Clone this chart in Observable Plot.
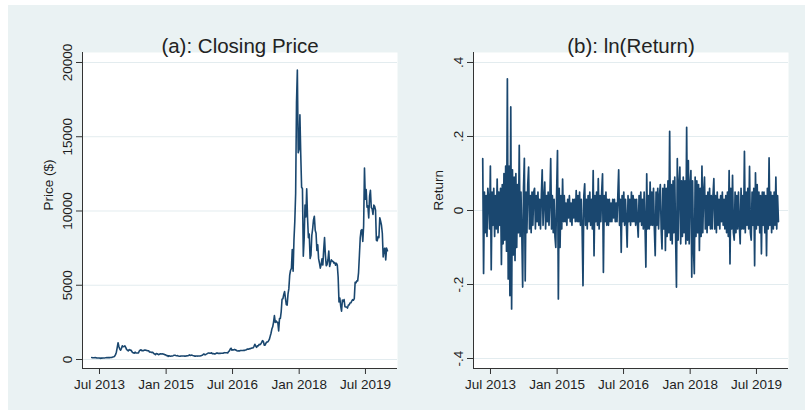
<!DOCTYPE html>
<html>
<head>
<meta charset="utf-8">
<script src="https://cdn.jsdelivr.net/npm/d3@7"></script>
<script src="https://cdn.jsdelivr.net/npm/@observablehq/plot@0.6"></script>
<style>
  html, body { margin: 0; padding: 0; background: #ffffff; }
  #graph { position: absolute; left: 8px; top: 5px; width: 797px; height: 405px; background: #eaf2f3; }
  #graph svg { position: absolute; top: 0; overflow: visible; }
</style>
</head>
<body>
<div id="graph"></div>
<script>
// Weekly closing prices (USD), one value per Sunday starting 2013-04-28
const weekStart = "2013-04-28";
const closingPrice = [
  // 2013
  134, 115, 115, 122, 133, 122, 100, 100, 103, 97, 76, 95, 90, 97, 105, 106, 113, 123,
  138, 124, 125, 124, 135, 136, 142, 174, 183, 225, 328, 492, 805, 1130, 860, 700, 625, 750,
  // 2014
  925, 860, 870, 920, 820, 680, 625, 575, 670, 630, 630, 565, 475, 460, 420, 495, 435,
  440, 440, 445, 570, 630, 655, 590, 600, 600, 635, 630, 625, 595, 590, 590, 500, 505, 480,
  480, 477, 400, 377, 320, 400, 390, 355, 325, 365, 390, 370, 380, 375, 350, 320, 317,
  // 2015
  264, 274, 210, 253, 226, 222, 234, 235, 260, 290, 285, 267, 252, 260, 236, 223, 219,
  240, 240, 237, 240, 230, 226, 234, 245, 250, 271, 310, 275, 293, 281, 265, 257, 228, 229,
  240, 230, 231, 232, 239, 247, 262, 285, 325, 373, 320, 323, 370, 395, 435, 441, 422,
  // 2016
  430, 447, 388, 403, 378, 376, 406, 438, 432, 403, 414, 411, 425, 420, 421, 430, 460,
  451, 459, 457, 440, 527, 574, 703, 760, 630, 660, 650, 680, 660, 625, 590, 570, 580, 575,
  610, 607, 610, 605, 612, 617, 640, 657, 700, 704, 702, 730, 730, 765, 770, 790, 890,
  // 2017
  1021, 911, 820, 925, 915, 1015, 1000, 1050, 1150, 1270, 1225, 970, 965,
  1100, 1180, 1180, 1250, 1350, 1555, 1770, 2050, 2200, 2520, 2960, 2500, 2590,
  2500, 2510, 1930, 2750, 2760, 3230, 4065, 4090, 4380, 4580, 4120, 3700, 3660,
  4400, 4770, 5680, 6010, 6130, 7400, 5950, 8040, 9300, 11200, 17300, 19497, 13925, 14156,
  // 2018
  16477, 13800, 11600, 11500, 6960, 8100, 10400, 9600, 11500, 9530, 8200, 8450,
  6800, 7020, 8350, 8800, 9400, 9650, 8700, 8500, 7350, 7720, 6790, 6500, 6150,
  6380, 6780, 6360, 7400, 8220, 7030, 6310, 6400, 6720, 7300, 6260, 6500, 6710, 6630,
  6600, 6490, 6530, 6350, 6480, 6360, 5560, 3880, 4140, 3600, 3250, 4000, 3920,
  // 2019
  4040, 3550, 3540, 3540, 3460, 3660, 3670, 3810, 3820, 3930, 4030, 3990, 4100,
  5200, 5160, 5300, 5290, 5830, 6990, 8200, 8700, 8740, 7950, 8990, 12900, 10800,
  11450, 10250, 10340, 9530, 11000, 11390, 10230, 10140, 9770, 10400, 10310, 10050, 8040,
  7990, 8280, 8210, 9550, 9310, 9040, 8500, 6900, 7420, 7500, 6700, 7500, 7320
];

// ln(Return), same weekly calendar as the prices
const lnReturn = [
  0.14, -0.17, 0.05, -0.06, 0.04, -0.07, 0.06, 0.03, -0.05, 0.12,
  -0.16, 0.05, -0.04, 0.06, -0.07, 0.04, -0.05, 0.085, -0.06, 0.05,
  -0.04, 0.06, -0.146, 0.07, -0.09, 0.1, -0.08, 0.12, -0.11, 0.356,
  -0.185, 0.12, -0.23, 0.28, -0.266, 0.11, -0.12, 0.09, -0.135, 0.1,
  -0.1, 0.07, -0.06, 0.176, -0.07, 0.05, -0.06, -0.207, 0.06, 0.141,
  -0.19, 0.05, -0.06, 0.07, 0.117, -0.05, 0.04, -0.06, 0.05, -0.04,
  0.05, 0.06, -0.05, 0.04, -0.03, 0.05, -0.04, 0.03, -0.05, 0.04,
  0.11, -0.04, 0.03, 0.077, -0.05, 0.04, -0.03, 0.05, -0.04, 0.03,
  0.14, -0.05, 0.04, -0.06, 0.03, -0.07, -0.1, 0.05, 0.162, -0.239,
  0.06, -0.1, 0.04, -0.05, 0.085, -0.03, 0.04, -0.03, 0.02, -0.04,
  0.03, -0.02, 0.04, -0.03, 0.02, -0.04, 0.03, -0.02, 0.03, -0.03,
  0.054, -0.03, 0.04, -0.03, 0.05, -0.04, 0.03, -0.05, -0.203, 0.04,
  0.072, -0.04, 0.03, -0.05, 0.04, -0.03, 0.05, -0.04, 0.03, -0.05,
  0.108, -0.122, 0.04, -0.03, 0.05, -0.04, 0.086, -0.05, 0.04, -0.03,
  0.05, 0.099, -0.167, 0.04, -0.03, 0.05, -0.04, 0.03, -0.04, 0.03,
  -0.03, 0.02, -0.03, 0.03, -0.02, 0.03, -0.03, 0.02, -0.03, 0.04,
  0.11, -0.04, 0.03, -0.113, 0.04, -0.03, 0.05, -0.04, 0.03, -0.03,
  -0.099, 0.04, -0.03, 0.03, -0.04, 0.05, -0.03, 0.04, -0.03, 0.03,
  -0.04, 0.03, -0.03, -0.072, 0.04, -0.03, 0.05, -0.04, 0.03, -0.05,
  0.05, -0.04, -0.153, 0.099, -0.05, 0.04, -0.05, 0.077, -0.04, 0.05,
  -0.04, 0.06, -0.05, -0.122, 0.05, -0.04, 0.06, -0.05, 0.04, 0.07,
  -0.05, -0.104, 0.06, -0.05, 0.07, -0.108, 0.06, -0.07, 0.08, -0.06,
  0.214, -0.08, 0.07, -0.09, 0.08, -0.06, 0.09, -0.07, -0.207, 0.14,
  -0.08, 0.07, 0.117, -0.09, 0.08, -0.07, 0.09, -0.06, 0.08, -0.09,
  0.225, -0.08, 0.135, -0.09, 0.07, 0.108, -0.18, 0.08, -0.1, -0.171,
  0.09, -0.07, 0.08, -0.06, 0.07, -0.108, 0.06, -0.07, 0.12, -0.06,
  0.05, 0.09, -0.05, 0.04, -0.06, 0.05, -0.04, 0.06, -0.05, 0.04,
  -0.05, 0.04, 0.086, -0.05, 0.04, -0.06, 0.05, -0.04, 0.03, -0.05,
  0.04, -0.03, 0.05, -0.04, 0.03, -0.05, 0.04, -0.06, 0.05, -0.07,
  0.108, -0.144, 0.06, -0.05, 0.095, -0.06, -0.08, 0.05, -0.06, 0.04,
  -0.05, 0.05, -0.04, -0.09, 0.06, -0.05, 0.04, -0.05, 0.16, -0.06,
  0.05, -0.04, 0.06, -0.05, 0.119, -0.06, -0.08, 0.05, -0.04, 0.06,
  -0.149, 0.102, -0.05, 0.07, -0.04, 0.05, -0.06, 0.04, -0.117, 0.05,
  -0.04, 0.05, -0.06, 0.04, -0.122, 0.06, -0.05, 0.142, -0.04, 0.05,
  -0.06, 0.04, -0.05, 0.05, -0.04, 0.09, -0.05, 0.04, -0.03
];

const timeTicks = ["2013-07-01", "2015-01-01", "2016-07-01", "2018-01-01", "2019-07-01"];
const timeDomain = ["2013-02-11", "2020-03-21"];
const priceTicks = [0, 5000, 10000, 15000, 20000];
const priceDomain = [-606, 20673];
const returnTicks = [-0.4, -0.2, 0, 0.2, 0.4];
const returnTickLabels = ["-.4", "-.2", "0", ".2", ".4"];
const returnDomain = [-0.427, 0.427];

const start = new Date(weekStart);
const priceRows = closingPrice.map((v, i) => ({date: d3.utcDay.offset(start, 7 * i), value: v}));
const returnRows = lnReturn.map((v, i) => ({date: d3.utcDay.offset(start, 7 * i), value: v}));

const navy = "#1a476f";
const gridColor = "#e3ecef";
const axisColor = "#333333";
const textColor = "#1e1e1e";
const fontFamily = "'Liberation Sans', Arial, Helvetica, sans-serif";

function panel({rows, title, yLabel, yTicks, yFormat, yDomain, left, width, marginLeft, marginRight, labelDx, lineWidth}) {
  const xd = timeDomain.map(d => new Date(d));
  const chart = Plot.plot({
    width,
    height: 405,
    marginLeft,
    marginRight,
    marginTop: 47,
    marginBottom: 42,
    style: {fontFamily, fontSize: "13.5px", color: textColor, background: "transparent", overflow: "visible"},
    x: {type: "utc", domain: xd, label: null},
    y: {domain: yDomain, label: null},
    marks: [
      Plot.frame({fill: "white", stroke: null}),
      Plot.gridY(yTicks, {stroke: gridColor, strokeOpacity: 1, strokeWidth: 1}),
      Plot.line(rows, {x: "date", y: "value", stroke: navy, strokeWidth: lineWidth}),
      Plot.ruleX([xd[0]], {stroke: axisColor, strokeWidth: 1}),
      Plot.ruleY([yDomain[0]], {stroke: axisColor, strokeWidth: 1}),
      Plot.axisX(timeTicks.map(d => new Date(d)), {
        tickSize: 6, tickPadding: 5, stroke: axisColor,
        tickFormat: d3.utcFormat("%b %Y"), label: null
      }),
      Plot.axisY(yTicks, {
        tickSize: 6, tickPadding: 5, stroke: axisColor, tickRotate: -90,
        tickFormat: yFormat, label: null
      }),
      Plot.text([yLabel], {frameAnchor: "left", dx: labelDx, rotate: -90, fontSize: 13.5, fill: textColor}),
      Plot.text([title], {frameAnchor: "top", dy: -14, fontSize: 20.5, fill: "#222"})
    ]
  });
  chart.style.left = left + "px";
  document.getElementById("graph").appendChild(chart);
}

panel({
  rows: priceRows, title: "(a): Closing Price", yLabel: "Price ($)",
  yTicks: priceTicks, yFormat: d => String(d), yDomain: priceDomain,
  left: 0, width: 392, marginLeft: 74, marginRight: 3, labelDx: -34, lineWidth: 1.6
});

panel({
  rows: returnRows, title: "(b): ln(Return)", yLabel: "Return",
  yTicks: returnTicks, yFormat: d => returnTickLabels[returnTicks.indexOf(d)], yDomain: returnDomain,
  left: 392, width: 405, marginLeft: 73, marginRight: 17, labelDx: -35, lineWidth: 1.7
});
</script>
</body>
</html>
